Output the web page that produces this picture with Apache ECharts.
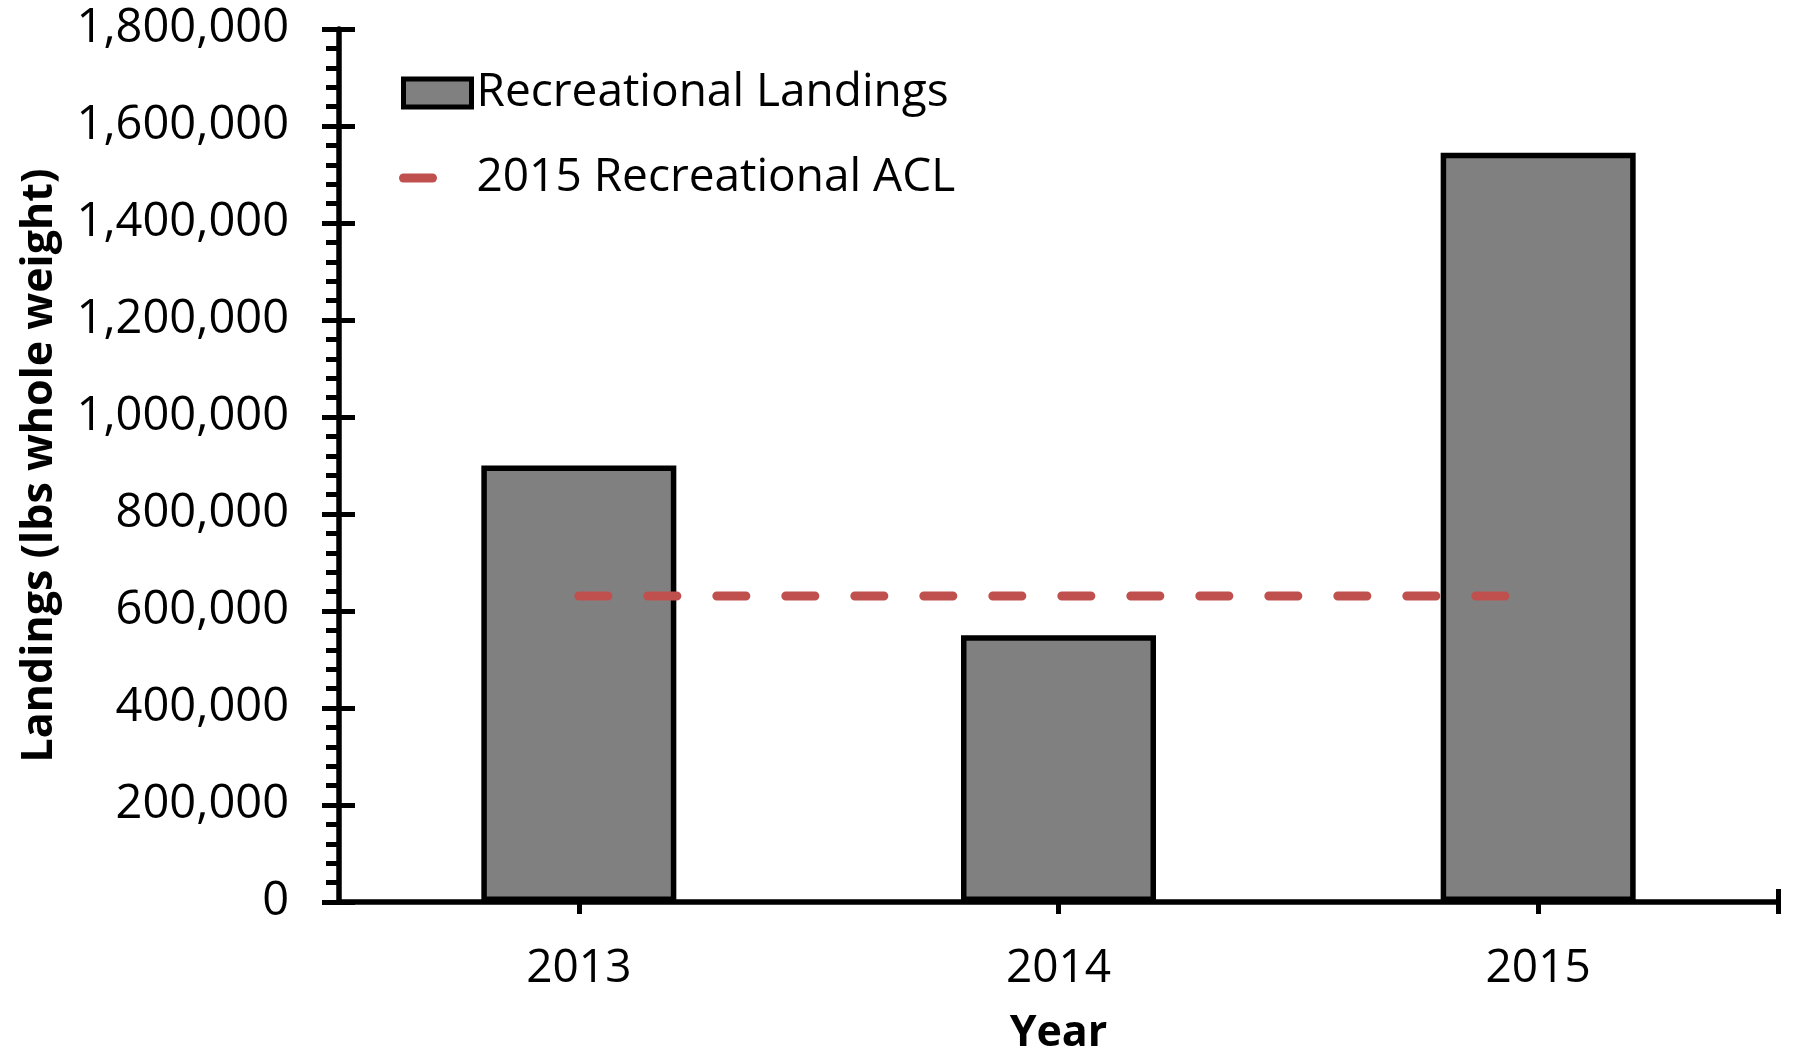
<!DOCTYPE html>
<html>
<head>
<meta charset="utf-8">
<script src="https://cdn.jsdelivr.net/npm/echarts@6/dist/echarts.min.js"></script>
<style>
  body { margin: 0; background: #fff; }
  #chart { width: 1793px; height: 1051px; }
</style>
</head>
<body>
<div id="chart"></div>
<script>
  // values
  var years = ['2013', '2014', '2015'];
  var landings = [900000, 550000, 1545000];
  var aclValue = 631000;
  var acl = [aclValue, aclValue, aclValue];

  var font = 'Open Sans';
  var myChart = echarts.init(document.getElementById('chart'));

  // x tick positions on a 0..3 helper axis: category centres plus right end
  var xTicks = [0.5, 1.5, 2.5, 3];

  var option = {
    animation: false,
    grid: {
      left: 339,
      right: 15,
      top: 29,
      bottom: 149,
      outerBoundsMode: 'none'
    },
    legend: {
      orient: 'vertical',
      left: 399,
      top: 70,
      padding: 0,
      itemWidth: 68,
      itemHeight: 28,
      itemGap: 39,
      textStyle: { fontFamily: font, fontSize: 46, color: '#000' },
      data: [
        {
          name: 'Recreational Landings',
          icon: 'rect',
          itemStyle: { color: '#808080', borderColor: '#000', borderWidth: 5 }
        },
        {
          name: '2015 Recreational ACL',
          itemStyle: { opacity: 0 },
          lineStyle: { color: '#C0504D', width: 9, type: [29, 200], cap: 'round' }
        }
      ]
    },
    xAxis: [
      {
        type: 'category',
        data: years,
        position: 'bottom',
        axisLine: { onZero: false, lineStyle: { color: '#000', width: 5.5 } },
        axisTick: { show: false },
        axisLabel: { fontFamily: font, fontSize: 46, color: '#000', margin: 44 },
        name: 'Year',
        nameLocation: 'middle',
        nameGap: 110,
        nameTextStyle: { fontFamily: font, fontSize: 43, fontWeight: 'bold', color: '#000' }
      },
      {
        type: 'value',
        min: 0,
        max: 3,
        position: 'bottom',
        axisLine: { show: false, onZero: false },
        axisLabel: { show: false },
        splitLine: { show: false },
        axisTick: { show: true, customValues: xTicks, length: 12, lineStyle: { color: '#000', width: 5 } }
      },
      {
        type: 'value',
        min: 0,
        max: 3,
        position: 'bottom',
        axisLine: { show: false, onZero: false },
        axisLabel: { show: false },
        splitLine: { show: false },
        axisTick: { show: true, inside: true, customValues: xTicks, length: 13, lineStyle: { color: '#000', width: 5 } }
      }
    ],
    yAxis: [
      {
        type: 'value',
        min: 0,
        max: 1800000,
        interval: 200000,
        position: 'left',
        axisLine: { show: true, onZero: false, lineStyle: { color: '#000', width: 5.5 } },
        axisTick: { show: true, length: 17, lineStyle: { color: '#000', width: 5 } },
        minorTick: { show: true, splitNumber: 5, length: 13, lineStyle: { color: '#000', width: 5 } },
        splitLine: { show: false },
        axisLabel: {
          fontFamily: font, fontSize: 47, color: '#000', margin: 50,
          formatter: function (v) { return v.toLocaleString('en-US'); }
        },
        name: 'Landings (lbs whole weight)',
        nameLocation: 'middle',
        nameGap: 278,
        nameTextStyle: { fontFamily: font, fontSize: 43, fontWeight: 'bold', color: '#000' }
      },
      {
        type: 'value',
        min: 0,
        max: 1800000,
        interval: 200000,
        position: 'left',
        axisLine: { show: false, onZero: false },
        axisTick: { show: true, inside: true, length: 16, lineStyle: { color: '#000', width: 5 } },
        splitLine: { show: false },
        axisLabel: { show: false }
      }
    ],
    series: [
      {
        name: 'Recreational Landings',
        type: 'bar',
        xAxisIndex: 0,
        yAxisIndex: 0,
        barWidth: 195,
        data: landings,
        itemStyle: { color: '#808080', borderColor: '#000', borderWidth: 5.5 },
        z: 2
      },
      {
        name: '2015 Recreational ACL',
        type: 'line',
        xAxisIndex: 0,
        yAxisIndex: 0,
        data: acl,
        symbol: 'none',
        itemStyle: { color: '#C0504D' },
        lineStyle: { color: '#C0504D', width: 9, type: [29, 40], cap: 'round' },
        z: 3
      }
    ]
  };

  myChart.setOption(option);
</script>
</body>
</html>
